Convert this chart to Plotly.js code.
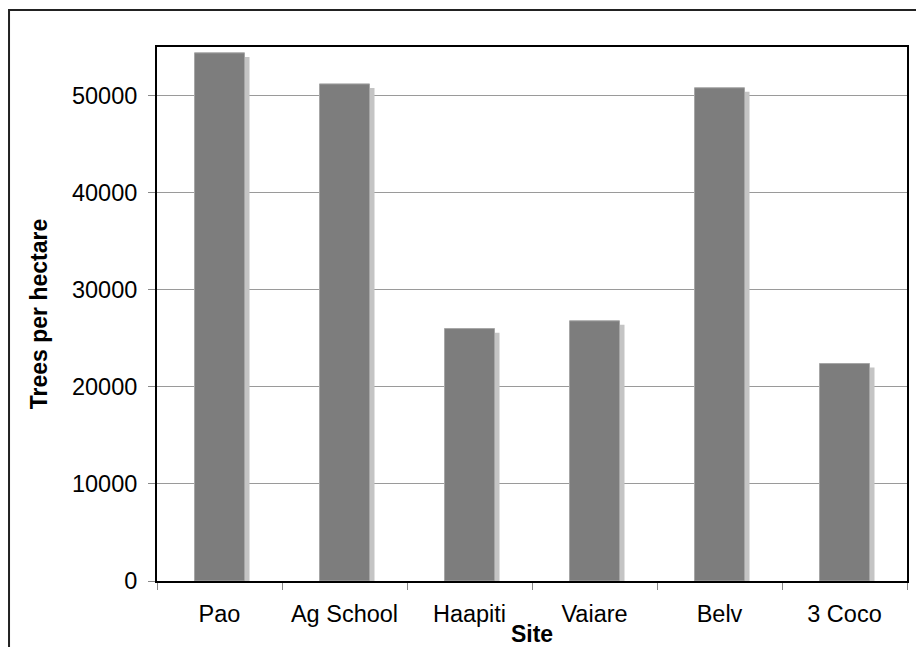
<!DOCTYPE html>
<html>
<head>
<meta charset="utf-8">
<script src="https://cdn.plot.ly/plotly-3.0.1.min.js"></script>
<style>
  html, body { margin: 0; padding: 0; background: #fff; }
  #chart { width: 916px; height: 647px; }
</style>
</head>
<body>
<div id="chart"></div>
<script>
// Tree density by site
const sites = ["Pao", "Ag School", "Haapiti", "Vaiare", "Belv", "3 Coco"];
const treesPerHectare = [54400, 51200, 26000, 26800, 50800, 22400];
const yTickValues = [0, 10000, 20000, 30000, 40000, 50000];
const yTickLabels = ["0", "10000", "20000", "30000", "40000", "50000"];

const font = "Liberation Sans, Arial, Helvetica, sans-serif";

// drop shadow: same bars, nudged right and down
const shadow = {
  type: "bar",
  x: sites,
  y: treesPerHectare,
  base: -420,
  width: 0.4,
  offset: -0.16,
  marker: { color: "#c4c4c4", line: { width: 0 } },
  hoverinfo: "skip",
  showlegend: false
};

const bars = {
  type: "bar",
  x: sites,
  y: treesPerHectare,
  width: 0.4,
  offset: -0.2,
  marker: { color: "#7d7d7d", line: { color: "#a6a6a6", width: 1 } },
  hoverinfo: "skip",
  showlegend: false
};

const layout = {
  width: 916,
  height: 647,
  margin: { l: 157, r: 9, t: 47, b: 66 },
  paper_bgcolor: "#ffffff",
  plot_bgcolor: "#ffffff",
  barmode: "overlay",
  font: { family: font, size: 23, color: "#000" },
  xaxis: {
    type: "category",
    tickson: "boundaries",
    ticks: "outside",
    ticklen: 7,
    tickcolor: "#888",
    tickwidth: 1,
    showline: true,
    linecolor: "#000",
    linewidth: 2,
    mirror: true,
    showgrid: false,
    ticklabelstandoff: 11,
    tickfont: { family: font, size: 23.5, color: "#000" },
    title: { text: "<b>Site</b>", font: { family: font, size: 23, color: "#000" }, standoff: 0 }
  },
  yaxis: {
    range: [0, 55000],
    tickvals: yTickValues,
    ticktext: yTickLabels,
    ticks: "outside",
    ticklen: 7,
    tickcolor: "#888",
    tickwidth: 1,
    showline: true,
    linecolor: "#000",
    linewidth: 2,
    mirror: true,
    showgrid: true,
    gridcolor: "#9a9a9a",
    gridwidth: 1,
    zeroline: false,
    ticklabelstandoff: 6,
    tickfont: { family: font, size: 23.5, color: "#000" },
    title: { text: "<b>Trees per hectare</b>", font: { family: font, size: 23, color: "#000" }, standoff: 18 }
  },
  shapes: [
    {
      type: "rect",
      xref: "paper", yref: "paper",
      x0: -0.1973, x1: 1.1, y0: -0.2, y1: 1.0693,
      line: { color: "#222", width: 2 },
      fillcolor: "rgba(0,0,0,0)",
      layer: "above"
    }
  ]
};

Plotly.newPlot("chart", [shadow, bars], layout, { staticPlot: true, displayModeBar: false });
</script>
</body>
</html>
